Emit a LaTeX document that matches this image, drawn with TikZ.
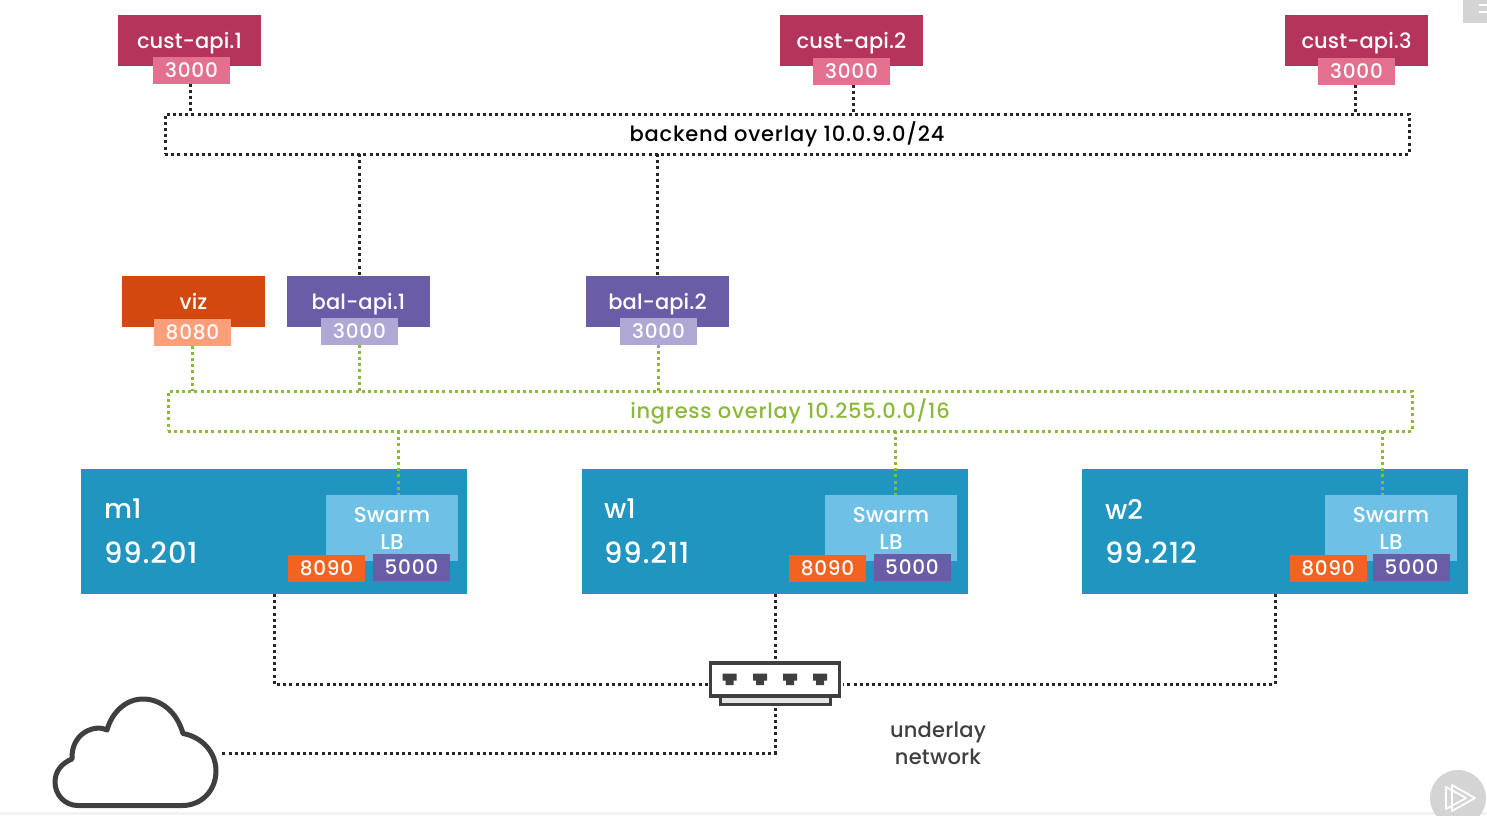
\documentclass[tikz,border=0pt]{standalone}
\usepackage{fontspec}
\setmainfont{Poppins}
\newfontfamily\servicefont[LetterSpace=0.5]{Poppins Medium}
\newfontfamily\portfont[LetterSpace=4]{Poppins Medium}
\newfontfamily\ipfont[LetterSpace=3]{Poppins Medium}
\newfontfamily\backendfont[LetterSpace=3.8]{Poppins Medium}
\newfontfamily\ingressfont[LetterSpace=3.6]{Poppins Medium}
\newfontfamily\underlayfont[LetterSpace=1]{Poppins Medium}
\definecolor{custred}{HTML}{B5345C}
\definecolor{custpink}{HTML}{E3708F}
\definecolor{vizred}{HTML}{D2480F}
\definecolor{vizpeach}{HTML}{FF9E78}
\definecolor{balpurple}{HTML}{6B5CA8}
\definecolor{ballilac}{HTML}{B0A8D4}
\definecolor{hostblue}{HTML}{1F95C0}
\definecolor{lbblue}{HTML}{6EC1E4}
\definecolor{lborange}{HTML}{F26322}
\definecolor{ingressgreen}{HTML}{8CB83C}
\definecolor{icongrey}{HTML}{3F3F3F}
\definecolor{overlaygrey}{HTML}{D4D4D4}

\begin{document}
\begin{tikzpicture}[x=1pt,y=-1pt,
  every node/.style={inner sep=0pt,outer sep=0pt,text=white},
  service/.style={minimum width=143pt,minimum height=51pt,text depth=0pt,font=\servicefont\fontsize{21}{25}\selectfont},
  port/.style={minimum width=77pt,minimum height=27pt,text depth=0pt,font=\portfont\fontsize{20}{24}\selectfont},
  host/.style={fill=hostblue,minimum width=386pt,minimum height=125pt},
  hostname/.style={anchor=west,font=\servicefont\fontsize{27}{32}\selectfont},
  hostip/.style={anchor=west,font=\ipfont\fontsize{29}{34}\selectfont},
  balancer/.style={fill=lbblue,minimum width=132pt,minimum height=66pt,align=center,
    font=\servicefont\fontsize{21.5}{26}\selectfont},
  overlay/.style={minimum width=1244pt,minimum height=40pt,text depth=4pt,line width=3pt,dash pattern=on 3pt off 3.2pt},
  darkdots/.style={line width=3pt,black!85,dash pattern=on 3pt off 3.2pt},
  greendots/.style={line width=3pt,ingressgreen,dash pattern=on 3pt off 3.2pt}]
\useasboundingbox (0,0) rectangle (1487,815);

\fill[gray!10] (0,812) rectangle (1487,815);

% services
\node[service,fill=custred] (cust1) at (189.5,40.5) {cust-api.1};
\node[service,fill=custred] (cust2) at (851.5,40.5) {cust-api.2};
\node[service,fill=custred] (cust3) at (1356.5,40.5) {cust-api.3};
\node[port,fill=custpink] (cust1port) at (191.5,70) {3000};
\node[port,fill=custpink] (cust2port) at (851.5,71) {3000};
\node[port,fill=custpink] (cust3port) at (1356.5,71) {3000};

\node[service,fill=vizred] (viz) at (193.5,301) {viz};
\node[service,fill=balpurple] (bal1) at (358.5,301) {bal-api.1};
\node[service,fill=balpurple] (bal2) at (657.5,301) {bal-api.2};
\node[port,fill=vizpeach] (vizport) at (192.5,332) {8080};
\node[port,fill=ballilac] (bal1port) at (359.5,331) {3000};
\node[port,fill=ballilac] (bal2port) at (658.5,331) {3000};

% overlays
\node[overlay,draw=black!85,text=black,font=\backendfont\fontsize{21}{25}\selectfont] (backend) at (787,134) {backend overlay 10.0.9.0/24};
\node[overlay,draw=ingressgreen,text=ingressgreen,font=\ingressfont\fontsize{21}{25}\selectfont] (ingress) at (790,411) {ingress overlay 10.255.0.0/16};

% hosts
\node[host] (m1) at (274,531.5) {};
\node[host] (w1) at (775,531.5) {};
\node[host] (w2) at (1275,531.5) {};
\node[hostname] (m1name) at (104,509) {m1};
\node[hostip] (m1ip) at (104,553) {99.201};
\node[hostname] (w1name) at (604,509) {w1};
\node[hostip] (w1ip) at (604,553) {99.211};
\node[hostname] (w2name) at (1105,509) {w2};
\node[hostip] (w2ip) at (1105,553) {99.212};

\node[balancer] (m1lb) at (392,528) {Swarm\\[1pt]LB};
\node[balancer] (w1lb) at (891,528) {Swarm\\[1pt]LB};
\node[balancer] (w2lb) at (1391,528) {Swarm\\[1pt]LB};
\node[port,fill=lborange] (m1a) at (326.5,568.5) {8090};
\node[port,fill=balpurple] (m1b) at (411.5,567.5) {5000};
\node[port,fill=lborange] (w1a) at (827.5,568.5) {8090};
\node[port,fill=balpurple] (w1b) at (912,567.5) {5000};
\node[port,fill=lborange] (w2a) at (1328,568.5) {8090};
\node[port,fill=balpurple] (w2b) at (1411.5,567.5) {5000};

% switch
\node[draw=icongrey,line width=3pt,fill=lightgray!40,minimum width=110pt,minimum height=9pt] (switchbase) at (775,700) {};
\node[draw=icongrey,line width=3.6pt,fill=white,minimum width=129pt,minimum height=33pt] (switch) at (775,679.5) {};
\foreach \px/\pname in {729.5/a,760/b,790/c,820/d} {
  \fill[icongrey] (\px-7,673.5) -- (\px+7,673.5) -- (\px+7,680.5) -- (\px+4,680.5) -- (\px+4,685) -- (\px-4,685) -- (\px-4,680.5) -- (\px-7,680.5) -- cycle;
}
\coordinate (switchline) at (775,684);

% cloud
\draw[icongrey,line width=5pt,line join=round] (78,805.5) -- (182,805.5)
  .. controls (203,805.5) and (216,789) .. (216,771)
  .. controls (216,752) and (202,737) .. (183,733.5)
  .. controls (177,712) and (161,699) .. (143,699)
  .. controls (126,699) and (112,712) .. (107,730)
  .. controls (96,724) and (71,732) .. (72,759)
  .. controls (62,763) and (55,771) .. (55,782)
  .. controls (55,795) and (65,805.5) .. (78,805.5) -- cycle;
\coordinate (cloudport) at (222,753);

\node[text=icongrey,align=center,font=\underlayfont\fontsize{21}{27}\selectfont] (underlay) at (938,743) {underlay\\network};

% player marks
\node[circle,fill=overlaygrey,minimum size=56pt] (playbutton) at (1458,798) {};
\draw[white,line width=1.8pt,line join=round] (1452,785) -- (1475,798) -- (1452,811) -- cycle;
\draw[white,line width=1.8pt,line join=round] (1446,787) -- (1466,798) -- (1446,809) -- cycle;
\node[fill=overlaygrey,minimum width=24pt,minimum height=23pt] (menubutton) at (1475,11.5) {};
\draw[white,line width=1.6pt] (1479,5) -- (1487,5) (1479,12) -- (1487,12);

% connectors
\coordinate (back1) at (190,114);
\coordinate (back2) at (853,114);
\coordinate (back3) at (1355,114);
\draw[darkdots] (back1 |- cust1port.south) -- (back1);
\draw[darkdots] (back2 |- cust2port.south) -- (back2);
\draw[darkdots] (back3 |- cust3port.south) -- (back3);
\draw[darkdots] (backend.south -| bal1port.north) -- (bal1.north -| bal1port.north);
\draw[darkdots] (backend.south -| bal2.north) -- (bal2.north);

\draw[greendots] (vizport.south) -- (vizport.south |- ingress.north);
\draw[greendots] (bal1port.south) -- (bal1port.south |- ingress.north);
\draw[greendots] (bal2port.south) -- (bal2port.south |- ingress.north);

\coordinate (lb1) at (398,495);
\coordinate (lb2) at (895,495);
\coordinate (lb3) at (1382,495);
\draw[greendots] (ingress.south -| lb1) -- (lb1);
\draw[greendots] (ingress.south -| lb2) -- (lb2);
\draw[greendots] (ingress.south -| lb3) -- (lb3);

\draw[darkdots,shorten >=3pt] (m1.south) |- (switchline -| switch.west);
\draw[darkdots,shorten >=3pt] (w2.south) |- (switchline -| switch.east);
\draw[darkdots,shorten >=3pt] (w1.south) -- (switch.north);
\draw[darkdots,shorten <=3pt] (switchbase.south) |- (cloudport);
\end{tikzpicture}
\end{document}
